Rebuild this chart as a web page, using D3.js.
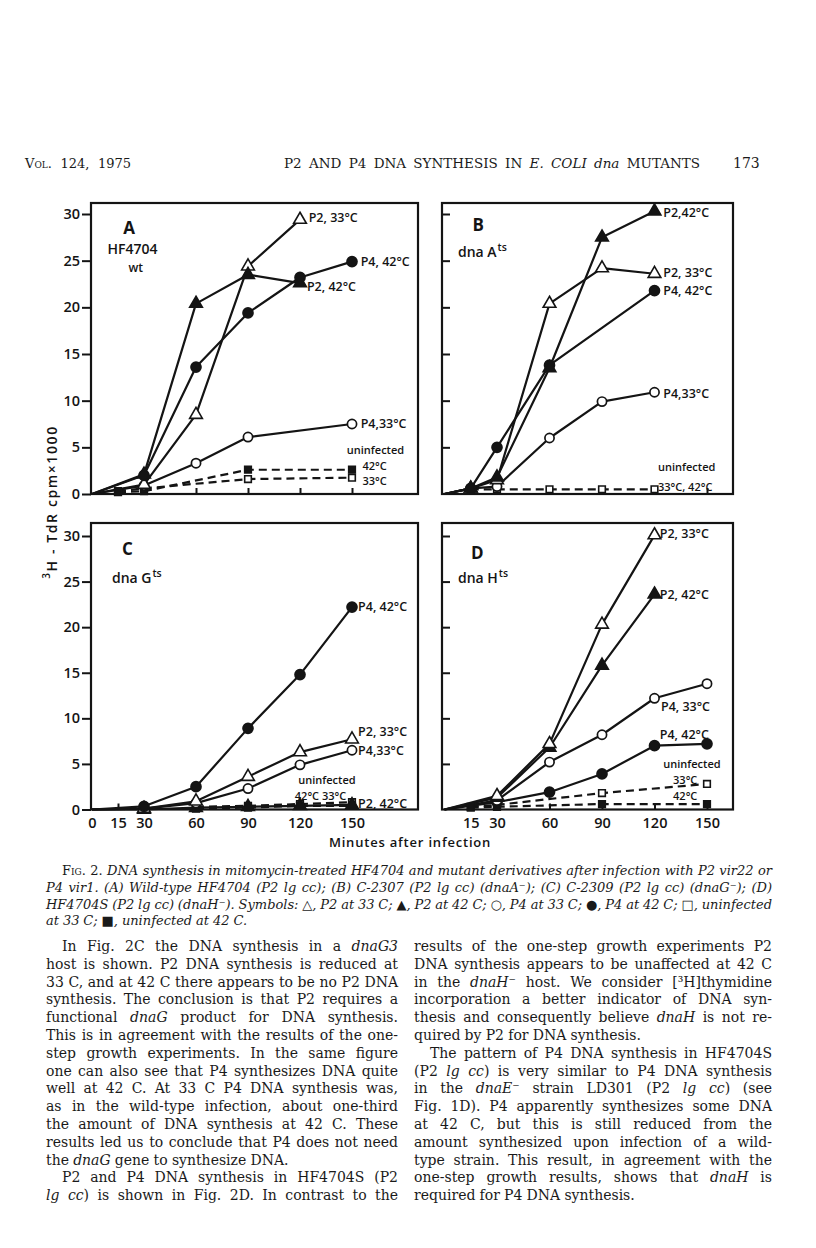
<!DOCTYPE html>
<html><head><meta charset="utf-8">
<script src="https://cdn.jsdelivr.net/npm/d3@7"></script>
<style>html,body{margin:0;padding:0;background:#fff;} svg{display:block;}</style>
</head><body>
<svg id="page" width="816" height="1248"></svg>
<script>
// ---------------- DATA ----------------
const minutes = [0, 15, 30, 60, 90, 120, 150];
const yTickValues = [0, 5, 10, 15, 20, 25, 30];
const xTickLabelsC = [0, 15, 30, 60, 90, 120, 150];
const xTickLabelsD = [15, 30, 60, 90, 120, 150];

// Panel A  (HF4704 wt)
const A_P2_33 = [0, null, 1.0, 8.5, 24.4, 29.4, null];
const A_P2_42 = [0, null, 2.1, 20.4, 23.5, 22.6, null];
const A_P4_33 = [0, null, 0.9, 3.3, 6.1, null, 7.5];
const A_P4_42 = [0, null, 2.0, 13.6, 19.4, 23.2, 24.9];
const A_U_33  = [null, 0.3, 0.6, null, 1.6, null, 1.75];
const A_U_42  = [null, 0.2, 0.3, null, 2.6, null, 2.6];
// Panel B  (dnaA ts)
const B_P2_33 = [0, 0.6, 1.5, 20.4, 24.2, 23.6, null];
const B_P2_42 = [0, 0.6, 1.8, 13.5, 27.5, 30.3, null];
const B_P4_33 = [0, 0.6, 0.8, 6.0, 9.9, 10.9, null];
const B_P4_42 = [0, 0.6, 5.0, 13.8, null, 21.8, null];
const B_U     = [null, 0.5, 0.5, 0.5, 0.5, 0.5, null];
// Panel C  (dnaG ts)
const C_P2_33 = [0, null, 0.1, 0.9, 3.6, 6.3, 7.7];
const C_P2_42 = [0, null, 0.0, 0.2, 0.3, 0.4, 0.5];
const C_P4_33 = [0, null, 0.1, 0.7, 2.3, 4.9, 6.5];
const C_P4_42 = [0, null, 0.35, 2.5, 8.9, 14.8, 22.2];
const C_U_33  = [null, null, null, 0.3, 0.4, 0.6, 0.8];
const C_U_42  = [null, null, null, 0.1, 0.2, 0.4, 0.4];
// Panel D  (dnaH ts)
const D_P2_33 = [0, null, 1.5, 7.2, 20.3, 30.1, null];
const D_P2_42 = [0, null, 1.3, 6.8, 15.8, 23.6, null];
const D_P4_33 = [0, null, 1.0, 5.2, 8.2, 12.2, 13.8];
const D_P4_42 = [0, null, 0.8, 1.9, 3.9, 7.0, 7.2];
const D_U_33  = [null, 0.3, 0.5, null, 1.8, null, 2.8];
const D_U_42  = [null, 0.2, 0.3, null, 0.6, null, 0.6];

// ---------------- TEXT ----------------
const headerLeft = "~Vol. 124, 1975~";
const headerMid = "P2 AND P4 DNA SYNTHESIS IN *E. COLI dna* MUTANTS";
const headerRight = "173";
const yAxisTitle = ["3", "H - TdR cpm\u00d71000"];
const xAxisTitle = "Minutes after infection";

const captionLines = [
  {s: "~Fig. 2.~ *DNA synthesis in mitomycin-treated HF4704 and mutant derivatives after infection with P2 vir22 or*", j: true, indent: true},
  {s: "*P4 vir1. (A) Wild-type HF4704 (P2 lg cc); (B) C-2307 (P2 lg cc) (dnaA\u207b); (C) C-2309 (P2 lg cc) (dnaG\u207b); (D)*", j: true},
  {s: "*HF4704S (P2 lg cc) (dnaH\u207b). Symbols: \u25b3, P2 at 33 C; \u25b2, P2 at 42 C; \u25cb, P4 at 33 C; \u25cf, P4 at 42 C; \u25a1, uninfected*", j: true},
  {s: "*at 33 C; \u25a0, uninfected at 42 C.*", j: false}
];
const leftColumn = [
  {s: "In Fig. 2C the DNA synthesis in a *dnaG3*", j: true, indent: true},
  {s: "host is shown. P2 DNA synthesis is reduced at", j: true},
  {s: "33 C, and at 42 C there appears to be no P2 DNA", j: true},
  {s: "synthesis. The conclusion is that P2 requires a", j: true},
  {s: "functional *dnaG* product for DNA synthesis.", j: true},
  {s: "This is in agreement with the results of the one-", j: true},
  {s: "step growth experiments. In the same figure", j: true},
  {s: "one can also see that P4 synthesizes DNA quite", j: true},
  {s: "well at 42 C. At 33 C P4 DNA synthesis was,", j: true},
  {s: "as in the wild-type infection, about one-third", j: true},
  {s: "the amount of DNA synthesis at 42 C. These", j: true},
  {s: "results led us to conclude that P4 does not need", j: true},
  {s: "the *dnaG* gene to synthesize DNA.", j: false},
  {s: "P2 and P4 DNA synthesis in HF4704S (P2", j: true, indent: true},
  {s: "*lg cc*) is shown in Fig. 2D. In contrast to the", j: true}
];
const rightColumn = [
  {s: "results of the one-step growth experiments P2", j: true},
  {s: "DNA synthesis appears to be unaffected at 42 C", j: true},
  {s: "in the *dnaH*\u207b host. We consider [\u00b3H]thymidine", j: true},
  {s: "incorporation a better indicator of DNA syn-", j: true},
  {s: "thesis and consequently believe *dnaH* is not re-", j: true},
  {s: "quired by P2 for DNA synthesis.", j: false},
  {s: "The pattern of P4 DNA synthesis in HF4704S", j: true, indent: true},
  {s: "(P2 *lg cc*) is very similar to P4 DNA synthesis", j: true},
  {s: "in the *dnaE*\u207b strain LD301 (P2 *lg cc*) (see", j: true},
  {s: "Fig. 1D). P4 apparently synthesizes some DNA", j: true},
  {s: "at 42 C, but this is still reduced from the", j: true},
  {s: "amount synthesized upon infection of a wild-", j: true},
  {s: "type strain. This result, in agreement with the", j: true},
  {s: "one-step growth results, shows that *dnaH* is", j: true},
  {s: "required for P4 DNA synthesis.", j: false}
];

// ---------------- LAYOUT ----------------
const INK = "#141414";
const SERIF = "'DejaVu Serif', 'Liberation Serif', serif";
const SANS = "'Open Sans', 'DejaVu Sans', sans-serif";
const svg = d3.select("#page");
svg.append("rect").attr("width", 816).attr("height", 1248).attr("fill", "#fff");

const panels = [
  {frame: {x0: 91, x1: 418, y0: 203, y1: 494}, xr: [92, 352], yr: [494, 214], yLabels: true, xTicks: [30, 60, 90, 120, 150], xLabels: null,
   series: [[A_U_33, "sqO", true], [A_U_42, "sqF", true], [A_P4_33, "cirO"], [A_P2_33, "triO"], [A_P2_42, "triF"], [A_P4_42, "cirF"]],
   notes: [["P2, 33°C", 125, 29.6], ["P4, 42°C", 155, 24.9], ["P2, 42°C", 124, 22.2], ["P4,33°C", 155, 7.5], ["uninfected", 147, 4.7, "s"], ["42°C", 156, 3.0, "s"], ["33°C", 156, 1.35, "s"]],
   title: ["A", 18, 28.5], sub: [["HF4704", 9, 26.2], ["wt", 21, 24.2]]},
  {frame: {x0: 442, x1: 733, y0: 203, y1: 494}, xr: [444.5, 707], yr: [494, 214], yLabels: false, xTicks: [15, 30, 60, 90, 120, 150], xLabels: null,
   series: [[B_U, "sqO", true], [B_P4_33, "cirO"], [B_P2_33, "triO"], [B_P4_42, "cirF"], [B_P2_42, "triF"]],
   notes: [["P2,42°C", 125, 30.2], ["P2, 33°C", 125, 23.7], ["P4, 42°C", 125, 21.8], ["P4,33°C", 125, 10.8], ["uninfected", 122, 2.9, "s"], ["33°C, 42°C", 122, 0.75, "s"]],
   title: ["B", 16, 28.8], sub: [["dna A|ts", 7.7, 25.9]]},
  {frame: {x0: 91, x1: 418, y0: 523, y1: 809.5}, xr: [92, 352], yr: [809.5, 536], yLabels: true, xTicks: [15, 30, 60, 90, 120, 150], xLabels: xTickLabelsC,
   series: [[C_U_33, "sqO", true], [C_U_42, "sqF", true], [C_P2_42, "triF"], [C_P4_33, "cirO"], [C_P2_33, "triO"], [C_P4_42, "cirF"]],
   notes: [["P4, 42°C", 153.5, 22.3], ["P2, 33°C", 153.5, 8.5], ["P4,33°C", 153.5, 6.5], ["uninfected", 119, 3.2, "s"], ["42°C 33°C", 117, 1.45, "s"], ["P2, 42°C", 153.5, 0.6]],
   title: ["C", 17.3, 28.6], sub: [["dna G|ts", 11.5, 25.4]]},
  {frame: {x0: 442, x1: 733, y0: 523, y1: 809.5}, xr: [444.5, 707], yr: [809.5, 536], yLabels: false, xTicks: [15, 30, 60, 90, 120, 150], xLabels: xTickLabelsD,
   series: [[D_U_33, "sqO", true], [D_U_42, "sqF", true], [D_P4_42, "cirF"], [D_P4_33, "cirO"], [D_P2_42, "triF"], [D_P2_33, "triO"]],
   notes: [["P2, 33°C", 123, 30.3], ["P2, 42°C", 123, 23.6], ["P4, 33°C", 123.7, 11.3], ["P4, 42°C", 123, 8.2], ["uninfected", 125, 5.0, "s"], ["33°C", 130.6, 3.2, "s"], ["42°C", 130.6, 1.5, "s"]],
   title: ["D", 15.1, 28.1], sub: [["dna H|ts", 7.7, 25.4]]}
];

function drawMarker(g, type, cx, cy) {
  if (type === "cirO" || type === "cirF") {
    g.append("circle").attr("cx", cx).attr("cy", cy).attr("r", type === "cirF" ? 5 : 4.6)
      .attr("fill", type === "cirF" ? INK : "#fff").attr("stroke", INK).attr("stroke-width", 1.7);
  } else {
    const isTri = type.startsWith("tri");
    const path = d3.symbol().type(isTri ? d3.symbolTriangle : d3.symbolSquare).size(isTri ? 70 : 44)();
    g.append("path").attr("d", path).attr("transform", `translate(${cx},${cy})`)
      .attr("fill", type.endsWith("F") ? INK : "#fff").attr("stroke", INK).attr("stroke-width", 1.6);
  }
}

panels.forEach(p => {
  const g = svg.append("g");
  const x = d3.scaleLinear().domain([0, 150]).range(p.xr);
  const y = d3.scaleLinear().domain([0, 30]).range(p.yr);
  const f = p.frame;

  if (p.yLabels) {
    g.append("g").attr("transform", `translate(${f.x0},0)`)
      .call(d3.axisLeft(y).tickValues(yTickValues).tickSize(9).tickPadding(2).tickFormat(d3.format("d")))
      .call(s => {
        s.select(".domain").remove();
        s.selectAll("line").attr("stroke", INK).attr("stroke-width", 2);
        s.selectAll("text").attr("font-family", SANS).attr("font-size", 14.5).attr("font-weight", 600).attr("fill", INK);
      });
  } else {
    g.append("g").attr("transform", `translate(${f.x0},0)`)
      .call(d3.axisRight(y).tickValues(yTickValues.slice(1)).tickSize(8).tickFormat(""))
      .call(s => { s.select(".domain").remove(); s.selectAll("line").attr("stroke", INK).attr("stroke-width", 2); });
  }
  g.append("g").attr("transform", `translate(0,${f.y1})`)
    .call(d3.axisTop(x).tickValues(p.xTicks).tickSize(6).tickFormat(""))
    .call(s => { s.select(".domain").remove(); s.selectAll("line").attr("stroke", INK).attr("stroke-width", 2); });
  if (p.xLabels) {
    g.append("g").attr("transform", `translate(0,${f.y1})`)
      .call(d3.axisBottom(x).tickValues(p.xLabels).tickSize(0).tickPadding(8).tickFormat(d3.format("d")))
      .call(s => {
        s.select(".domain").remove();
        s.selectAll("text").attr("font-family", SANS).attr("font-size", 14.5).attr("font-weight", 600).attr("fill", INK);
      });
  }
  g.append("rect").attr("x", f.x0).attr("y", f.y0).attr("width", f.x1 - f.x0).attr("height", f.y1 - f.y0)
    .attr("fill", "none").attr("stroke", INK).attr("stroke-width", 2.2);

  const line = d3.line().x(d => x(d[0])).y(d => y(d[1]));
  const sets = p.series.map(([vals, m, dash]) => ({pts: minutes.map((t, i) => [t, vals[i]]).filter(d => d[1] != null), m, dash}));
  sets.filter(s => s.dash).forEach(s => g.append("path").attr("d", line(s.pts)).attr("fill", "none")
    .attr("stroke", INK).attr("stroke-width", 2.2).attr("stroke-dasharray", "8,5"));
  sets.filter(s => !s.dash).forEach(s => g.append("path").attr("d", line(s.pts)).attr("fill", "none")
    .attr("stroke", INK).attr("stroke-width", 2.2).attr("stroke-linejoin", "round"));
  sets.forEach(s => s.pts.filter(d => d[0] > 0).forEach(d => drawMarker(g, s.m, x(d[0]), y(d[1]))));

  p.notes.forEach(([txt, t, v, kind]) => {
    g.append("text").attr("x", x(t)).attr("y", y(v)).attr("dy", "0.35em")
      .attr("font-family", SANS).attr("font-weight", 600).attr("font-size", kind === "s" ? 11 : 12.5)
      .attr("fill", INK).text(txt);
  });
  g.append("text").attr("x", x(p.title[1])).attr("y", y(p.title[2])).attr("dy", "0.35em")
    .attr("font-family", SANS).attr("font-weight", 700).attr("font-size", 17).attr("fill", INK).text(p.title[0]);
  p.sub.forEach(([txt, t, v]) => {
    const parts = txt.split("|");
    const te = g.append("text").attr("x", x(t)).attr("y", y(v)).attr("dy", "0.35em")
      .attr("font-family", SANS).attr("font-weight", 600).attr("font-size", txt === "wt" ? 12 : 14).attr("fill", INK);
    te.append("tspan").text(parts[0]);
    if (parts[1]) te.append("tspan").attr("font-size", 10.5).attr("dy", "-0.55em").attr("dx", "1").text(parts[1]);
  });
});

// axis titles
const yt = svg.append("text").attr("transform", "translate(55,502) rotate(-90)").attr("text-anchor", "middle")
  .attr("font-family", SANS).attr("font-weight", 600).attr("font-size", 14).attr("letter-spacing", 1.6).attr("fill", INK);
yt.append("tspan").attr("font-size", 10).attr("dy", "-0.5em").text(yAxisTitle[0]);
yt.append("tspan").attr("dy", "0.5em").text(yAxisTitle[1]);
svg.append("text").attr("x", 410).attr("y", 847).attr("text-anchor", "middle").attr("letter-spacing", 0.8)
  .attr("font-family", SANS).attr("font-weight", 600).attr("font-size", 13).attr("fill", INK).text(xAxisTitle);

// ---------------- text helpers ----------------
function parseWords(str) {
  const st = {it: false, sc: false};
  const words = [];
  for (const w of str.split(" ")) {
    if (!w) continue;
    const parts = []; let buf = "";
    for (const ch of w) {
      if (ch === "*" || ch === "~") {
        if (buf) parts.push({text: buf, it: st.it, sc: st.sc});
        buf = "";
        if (ch === "*") st.it = !st.it; else st.sc = !st.sc;
      } else buf += ch;
    }
    if (buf) parts.push({text: buf, it: st.it, sc: st.sc});
    if (parts.length) words.push(parts);
  }
  return words;
}
function renderLine(g, str, x, y, width, justify, size, family) {
  const words = parseWords(str);
  const nodes = words.map(parts => {
    const t = g.append("text").attr("y", y).attr("font-family", family).attr("font-size", size).attr("fill", "#1a1a1a");
    parts.forEach(pp => t.append("tspan").attr("font-style", pp.it ? "italic" : "normal")
      .attr("font-variant", pp.sc ? "small-caps" : "normal").text(pp.text));
    return t;
  });
  const widths = nodes.map(n => n.node().getComputedTextLength());
  let gap = size * 0.3;
  if (justify && nodes.length > 1) gap = (width - d3.sum(widths)) / (nodes.length - 1);
  let cx = x;
  nodes.forEach((n, i) => { n.attr("x", cx); cx += widths[i] + gap; });
  return gap;
}
function renderBlock(lines, o) {
  const g = svg.append("g");
  let size = o.size;
  for (let k = 0; k < 60; k++) {
    g.selectAll("*").remove();
    let minGap = Infinity;
    lines.forEach((ln, i) => {
      const ind = ln.indent ? o.indent : 0;
      const gap = renderLine(g, ln.s, o.x + ind, o.y0 + i * o.lh, o.width - ind, ln.j, size, o.family);
      if (ln.j) minGap = Math.min(minGap, gap);
    });
    if (minGap >= o.minGap) break;
    size -= 0.1;
  }
}

renderBlock([{s: headerLeft, j: true}], {x: 25, y0: 168, lh: 0, width: 106, size: 13, family: SERIF, minGap: 2, indent: 0});
renderBlock([{s: headerMid, j: true}], {x: 284, y0: 168, lh: 0, width: 416, size: 13.5, family: SERIF, minGap: 3, indent: 0});
renderBlock([{s: headerRight, j: false}], {x: 733, y0: 168, lh: 0, width: 30, size: 14, family: SERIF, minGap: 2, indent: 0});
renderBlock(captionLines, {x: 46, y0: 875, lh: 16.8, width: 726, indent: 16, size: 13, family: SERIF, minGap: 3});
renderBlock(leftColumn, {x: 46, y0: 951, lh: 17.8, width: 352, indent: 16, size: 14, family: SERIF, minGap: 3.2});
renderBlock(rightColumn, {x: 414, y0: 951, lh: 17.8, width: 358, indent: 16, size: 14, family: SERIF, minGap: 3.2});
</script>
</body></html>
